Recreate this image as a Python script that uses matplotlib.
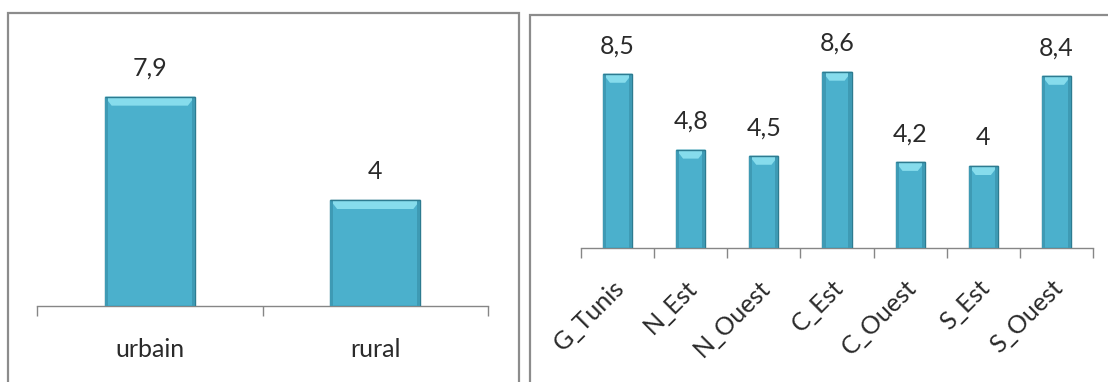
import matplotlib
matplotlib.use("Agg")
import matplotlib.pyplot as plt
import matplotlib.transforms as mtransforms
from matplotlib.patches import Rectangle, Polygon

plt.rcParams["font.family"] = ["Lato", "DejaVu Sans"]

# milieu de résidence
milieu = ["urbain", "rural"]
milieu_vals = [7.9, 4]

# régions
regions = ["G_Tunis", "N_Est", "N_Ouest", "C_Est", "C_Ouest", "S_Est", "S_Ouest"]
region_vals = [8.5, 4.8, 4.5, 8.6, 4.2, 4.0, 8.4]

FACE = "#4bb0cc"
EDGE = "#2d7b90"
TOP = "#86dcec"
SIDE = "#3e9ab4"
AXIS = "#868686"
TXT = "#2a2a2a"
FS_NUM = 18
FS_CAT = 18


def fmt(v):
    return f"{v:g}".replace(".", ",")


def bevel_bars(ax, cats, vals, width=0.4):
    x = range(len(cats))
    bars = ax.bar(x, vals, width=width, color=FACE, edgecolor=EDGE,
                  linewidth=1.0, zorder=3)
    fig = ax.figure
    fig.canvas.draw()
    bb = ax.get_window_extent()
    y0, y1 = ax.get_ylim()
    x0, x1 = ax.get_xlim()
    dy = 9 * (y1 - y0) / bb.height      # bevel depth, ~9 px
    dx = 7 * (x1 - x0) / bb.width
    for b in bars:
        bx, bw, bh = b.get_x(), b.get_width(), b.get_height()
        # light top bevel
        ax.add_patch(Polygon([(bx, bh), (bx + bw, bh), (bx + bw - dx, bh - dy),
                              (bx + dx, bh - dy)], closed=True, color=TOP,
                             lw=0, zorder=4))
        # darker side strips
        ax.add_patch(Rectangle((bx, 0), dx * 0.45, bh, color=SIDE, lw=0, zorder=4))
        ax.add_patch(Rectangle((bx + bw - dx * 0.45, 0), dx * 0.45, bh,
                               color=SIDE, lw=0, zorder=4))
        ax.add_patch(Rectangle((bx, bh), bw, 0, fill=False, ec=EDGE, lw=1.0, zorder=5))
        ax.annotate(fmt(bh), (bx + bw / 2, bh), xytext=(0, 12),
                    textcoords="offset points", ha="center", va="bottom",
                    fontsize=FS_NUM, color=TXT)
    return bars


def style_axis(ax, n):
    ax.set_xlim(-0.5, n - 0.5)
    ax.set_ylim(0, 10)
    for s in ("top", "left", "right"):
        ax.spines[s].set_visible(False)
    ax.spines["bottom"].set_color(AXIS)
    ax.spines["bottom"].set_linewidth(1.0)
    ax.set_yticks([])
    ax.set_xticks([i - 0.5 for i in range(n + 1)], minor=True)
    ax.tick_params(axis="x", which="minor", length=7, color=AXIS, width=1.0)
    ax.tick_params(axis="x", which="major", length=0)
    ax.set_facecolor("none")


fig = plt.figure(figsize=(11.08, 3.82), dpi=100)

# panel frames
fig.patches.append(Rectangle((8 / 1108, -0.05), 511 / 1108, 1.05 - 13 / 382,
                             transform=fig.transFigure, fill=False,
                             ec="#8c8c8c", lw=1.6))
fig.patches.append(Rectangle((530 / 1108, -0.05), 0.6, 1.05 - 15 / 382,
                             transform=fig.transFigure, fill=False,
                             ec="#8c8c8c", lw=1.6))

ax1 = fig.add_axes([37 / 1108, 76 / 382, 451 / 1108, 265 / 382])
style_axis(ax1, len(milieu))
ax1.set_xticks(range(len(milieu)))
ax1.set_xticklabels(milieu, fontsize=FS_CAT, color=TXT)
ax1.tick_params(axis="x", which="major", pad=23)
bevel_bars(ax1, milieu, milieu_vals)

ax2 = fig.add_axes([581 / 1108, 134 / 382, 512 / 1108, 205 / 382])
style_axis(ax2, len(regions))
ax2.set_xticks(range(len(regions)))
ax2.set_xticklabels(regions, fontsize=FS_CAT, color=TXT, rotation=45,
                    ha="right", va="center", rotation_mode="anchor")
ax2.tick_params(axis="x", which="major", pad=26)
shift = mtransforms.ScaledTranslation(3 / 100, 0, fig.dpi_scale_trans)
for lab in ax2.get_xticklabels():
    lab.set_transform(lab.get_transform() + shift)
bevel_bars(ax2, regions, region_vals)

fig.savefig("out.png", dpi=100)
